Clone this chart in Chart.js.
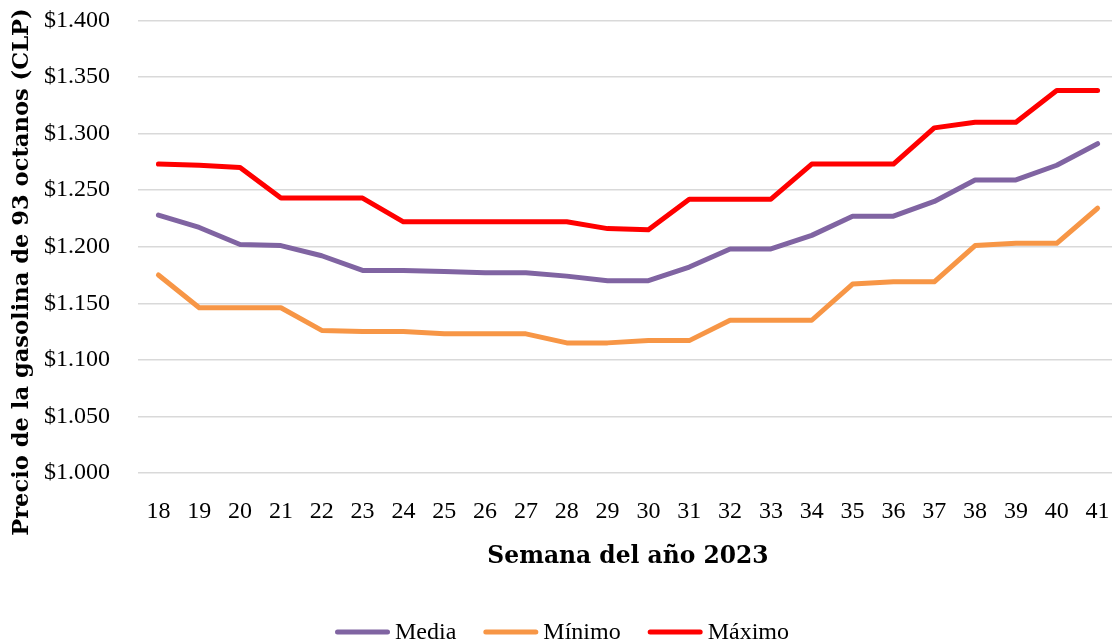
<!DOCTYPE html>
<html lang="es">
<head>
<meta charset="utf-8">
<title>Precio de la gasolina de 93 octanos</title>
<script src="https://cdn.jsdelivr.net/npm/chart.js@4"></script>
<style>
  html, body { margin: 0; padding: 0; background: #ffffff; overflow: hidden; }
  #wrap { width: 1118px; height: 643px; }
</style>
</head>
<body>
<div id="wrap"><canvas id="chart" width="1118" height="643"></canvas></div>
<script>
// Semanas del año 2023
const weeks = ['18','19','20','21','22','23','24','25','26','27','28','29','30','31','32','33','34','35','36','37','38','39','40','41'];

// Precio semanal de la gasolina de 93 octanos (CLP)
const media  = [1228, 1217, 1202, 1201, 1192, 1179, 1179, 1178, 1177, 1177, 1174, 1170, 1170, 1182, 1198, 1198, 1210, 1227, 1227, 1240, 1259, 1259, 1272, 1291];
const minimo = [1175, 1146, 1146, 1146, 1126, 1125, 1125, 1123, 1123, 1123, 1115, 1115, 1117, 1117, 1135, 1135, 1135, 1167, 1169, 1169, 1201, 1203, 1203, 1234];
const maximo = [1273, 1272, 1270, 1243, 1243, 1243, 1222, 1222, 1222, 1222, 1222, 1216, 1215, 1242, 1242, 1242, 1273, 1273, 1273, 1305, 1310, 1310, 1338, 1338];

const seriesNames = ['Media', 'Mínimo', 'Máximo'];
const yTitle = 'Precio de la gasolina de 93 octanos (CLP)';
const xTitle = 'Semana del año 2023';

const REG = '"Liberation Serif", "Times New Roman", serif';
const BOLD = '"DejaVu Serif", serif';
const CLEAR = 'rgba(0,0,0,0)';

// Peso chileno: $1.250
function clp(v) {
  return '$' + String(Math.round(v)).replace(/\B(?=(\d{3})+(?!\d))/g, '.');
}

// Título vertical del eje Y, centrado junto a las etiquetas
const yTitlePlugin = {
  id: 'yTitle',
  afterDraw(chart) {
    const ctx = chart.ctx;
    ctx.save();
    ctx.translate(22, 272);
    ctx.rotate(-Math.PI / 2);
    ctx.font = 'bold 22.6px ' + BOLD;
    ctx.fillStyle = '#000000';
    ctx.textAlign = 'center';
    ctx.textBaseline = 'middle';
    ctx.fillText(yTitle, 0, 0);
    ctx.restore();
  }
};

// Leyenda inferior: trazo de línea seguido del nombre de la serie
const legendPlugin = {
  id: 'lineLegend',
  afterDraw(chart) {
    const ctx = chart.ctx;
    const lineLen = 50, gapText = 5, gapItem = 27, cy = 632, cx = 562;
    ctx.save();
    ctx.font = '24px ' + REG;
    const items = chart.data.datasets.map(ds => ({
      label: ds.label, color: ds.borderColor, w: ctx.measureText(ds.label).width
    }));
    const total = items.reduce((s, it) => s + lineLen + 5 + gapText + it.w, 0) + gapItem * (items.length - 1);
    let x = cx - total / 2;
    items.forEach(it => {
      ctx.strokeStyle = it.color;
      ctx.lineWidth = 5;
      ctx.lineCap = 'round';
      ctx.beginPath();
      ctx.moveTo(x + 2.5, cy);
      ctx.lineTo(x + 2.5 + lineLen, cy);
      ctx.stroke();
      x += lineLen + 5 + gapText;
      ctx.fillStyle = '#000000';
      ctx.textAlign = 'left';
      ctx.textBaseline = 'middle';
      ctx.fillText(it.label, x, cy + 1);
      x += it.w + gapItem;
    });
    ctx.restore();
  }
};

const mkSet = (label, data, color) => ({
  label, data,
  borderColor: color,
  backgroundColor: color,
  borderWidth: 5,
  borderCapStyle: 'round',
  borderJoinStyle: 'round',
  pointRadius: 0,
  pointHoverRadius: 0,
  tension: 0,
  fill: false
});

new Chart(document.getElementById('chart'), {
  type: 'line',
  data: {
    labels: weeks,
    datasets: [
      mkSet(seriesNames[0], media, '#8064A2'),
      mkSet(seriesNames[1], minimo, '#F79646'),
      mkSet(seriesNames[2], maximo, '#FF0000')
    ]
  },
  options: {
    responsive: false,
    devicePixelRatio: 1,
    animation: false,
    events: [],
    layout: { padding: 0 },
    plugins: {
      legend: { display: false },
      tooltip: { enabled: false }
    },
    scales: {
      x: {
        type: 'category',
        offset: true,
        border: { display: false },
        grid: { display: true, drawOnChartArea: false, drawTicks: true, tickLength: 24, tickColor: CLEAR },
        ticks: {
          padding: 0,
          maxRotation: 0,
          autoSkip: false,
          color: '#000000',
          font: { family: REG, size: 24 }
        },
        title: {
          display: true,
          text: xTitle,
          color: '#000000',
          font: { family: BOLD, size: 23.4, weight: 'bold' },
          padding: { top: 0, bottom: 72 }
        },
        afterFit(scale) { scale.height = 170; }
      },
      y: {
        min: 1000,
        max: 1400,
        border: { display: false },
        grid: { color: '#d9d9d9', lineWidth: 1.5, drawTicks: true, tickLength: 22, tickColor: CLEAR },
        ticks: {
          stepSize: 50,
          padding: 6,
          color: '#000000',
          font: { family: REG, size: 24 },
          callback: v => clp(v)
        },
        afterFit(scale) { scale.width = 138; }
      }
    }
  },
  plugins: [yTitlePlugin, legendPlugin]
});
</script>
</body>
</html>
